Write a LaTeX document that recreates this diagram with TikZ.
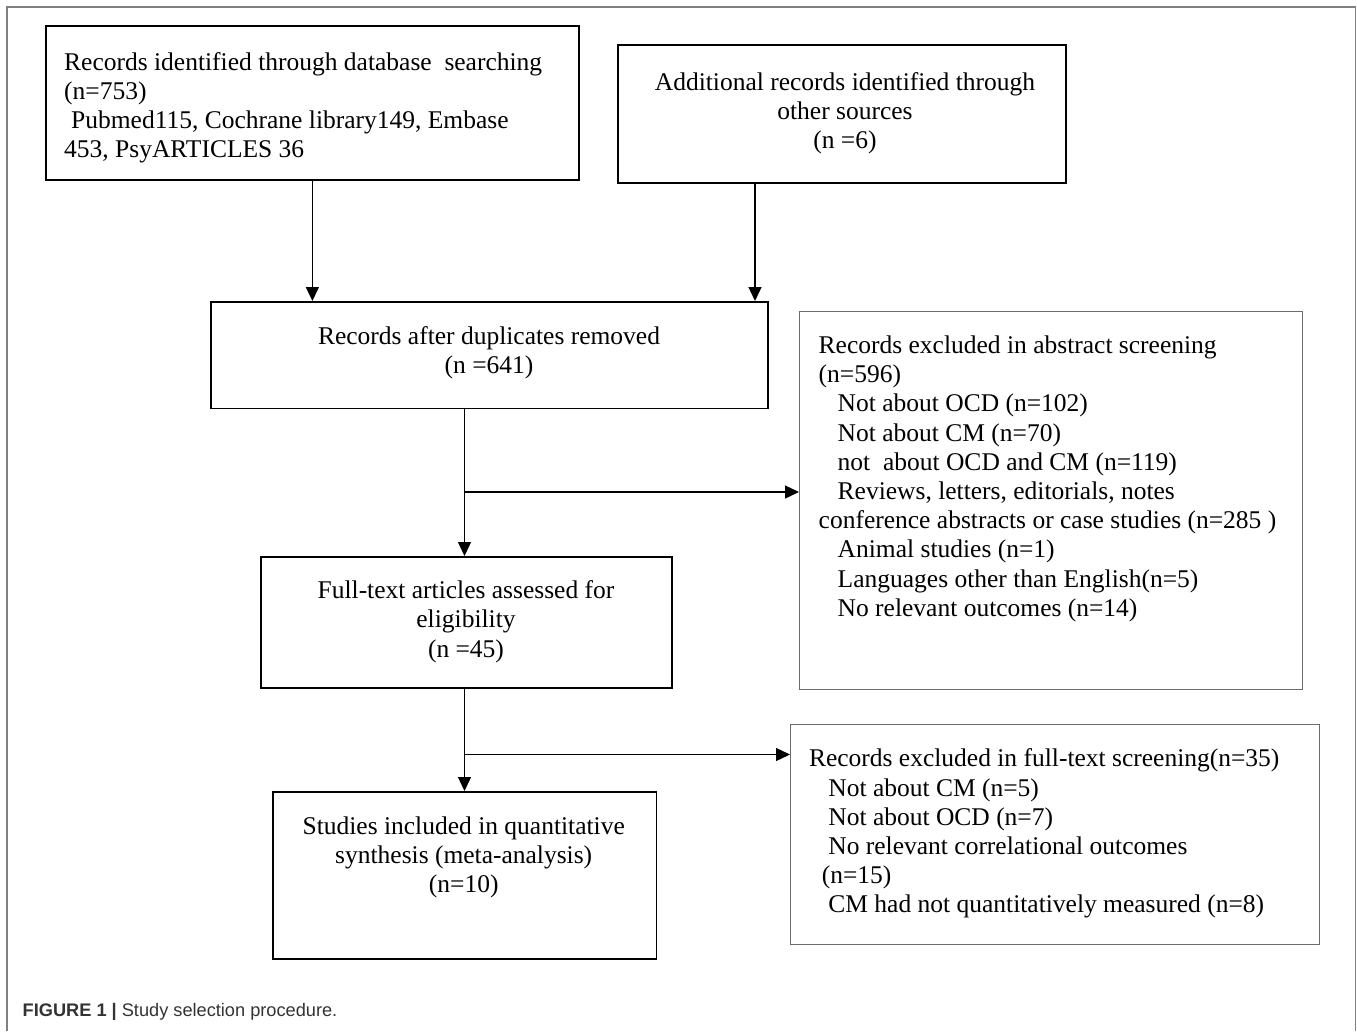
\documentclass[tikz,border=0pt]{standalone}
\usepackage{fontspec}
\setmainfont{Liberation Serif}
\newfontfamily\capfont{Liberation Sans}
\usetikzlibrary{arrows.meta,calc}
\begin{document}
\begin{tikzpicture}[x=1pt,y=-1pt,
  box/.style={draw=black,line width=1.8pt,inner sep=0pt,anchor=north west},
  gbox/.style={draw=black!58,line width=1.4pt,inner sep=0pt,anchor=north west},
  txt/.style={inner sep=0pt,font=\fontsize{25.5}{29.2}\selectfont},
  arr/.style={line width=1.3pt,-{Triangle[length=14pt,width=13pt]}},
  frame/.style={draw=black!50,line width=1.4pt}]
\useasboundingbox (0,0) rectangle (1357,1031);
% outer frame
\coordinate (f1) at (7,1031);
\coordinate (f2) at (7,7);
\coordinate (f3) at (1355.5,7);
\coordinate (f4) at (1355.5,1031);
\draw[frame] (f1) -- (f2) -- (f3) -- (f4);
% boxes
\node[box,minimum width=533pt,minimum height=154pt] (b1) at (45,25) {};
\node[box,minimum width=448pt,minimum height=138pt] (b2) at (617,44) {};
\node[box,minimum width=557pt,minimum height=106.5pt] (b3) at (210,301) {};
\node[gbox,minimum width=502.5pt,minimum height=378pt] (b4) at (799,311) {};
\node[box,minimum width=411pt,minimum height=131pt] (b5) at (260,556) {};
\node[gbox,minimum width=529pt,minimum height=220pt] (b6) at (790,724) {};
\node[box,minimum width=383.5pt,minimum height=167pt] (b7) at (272,791) {};
% texts
\node[txt,anchor=north west,align=left] (t1) at (64,49)
 {\rule{0pt}{21pt}Records identified through database\ \ searching\\
  (n=753)\\
  \hspace*{7pt}Pubmed115, Cochrane library149, Embase\\
  453, PsyARTICLES 36};
\node[txt,anchor=north,align=center] (t2) at (845,69)
 {\rule{0pt}{21pt}Additional records identified through\\
  other sources\\
  (n =6)};
\node[txt,anchor=north,align=center] (t3) at (489,323.3)
 {\rule{0pt}{21pt}Records after duplicates removed\\
  (n =641)};
\node[txt,anchor=north west,align=left] (t4) at (818.5,332.3)
 {\rule{0pt}{21pt}Records excluded in abstract screening\\
  (n=596)\\
  \hspace*{19pt}Not about OCD (n=102)\\
  \hspace*{19pt}Not about CM (n=70)\\
  \hspace*{19pt}not\ \ about OCD and CM (n=119)\\
  \hspace*{19pt}Reviews, letters, editorials, notes\\
  conference abstracts or case studies (n=285 )\\
  \hspace*{19pt}Animal studies (n=1)\\
  \hspace*{19pt}Languages other than English(n=5)\\
  \hspace*{19pt}No relevant outcomes (n=14)};
\node[txt,anchor=north,align=center] (t5) at (466,577.5)
 {\rule{0pt}{21pt}Full-text articles assessed for\\
  eligibility\\
  (n =45)};
\node[txt,anchor=north west,align=left] (t6) at (808.8,745.7)
 {\rule{0pt}{21pt}Records excluded in full-text screening(n=35)\\
  \hspace*{19.4pt}Not about CM (n=5)\\
  \hspace*{19.4pt}Not about OCD (n=7)\\
  \hspace*{19.4pt}No relevant correlational outcomes\\
  \hspace*{12.8pt}(n=15)\\
  \hspace*{19.4pt}CM had not quantitatively measured (n=8)};
\node[txt,anchor=north,align=center] (t7) at (463.7,813)
 {\rule{0pt}{21pt}Studies included in quantitative\\
  synthesis (meta-analysis)\\
  (n=10)};
% caption
\node[inner sep=0pt,anchor=base west,text=black!80,
  font=\capfont\fontsize{18.2}{21}\selectfont] (cap) at (22.5,1016.5)
 {\textbf{FIGURE 1 |} Study selection procedure.};
% connectors
\coordinate (x2) at (755,0);
\coordinate (x3) at (464.5,0);
\coordinate (j1) at (464.5,492);
\coordinate (j2) at (464.5,754.5);
\draw[arr] (b1.south) -- (b1.south |- b3.north);
\draw[arr] (b2.south -| x2) -- (b3.north -| x2);
\draw[arr] (b3.south -| x3) -- (b5.north -| x3);
\draw[arr] (j1) -- (j1 -| b4.west);
\draw[arr] (b5.south -| x3) -- (b7.north -| x3);
\draw[arr] (j2) -- (j2 -| b6.west);
\end{tikzpicture}
\end{document}
